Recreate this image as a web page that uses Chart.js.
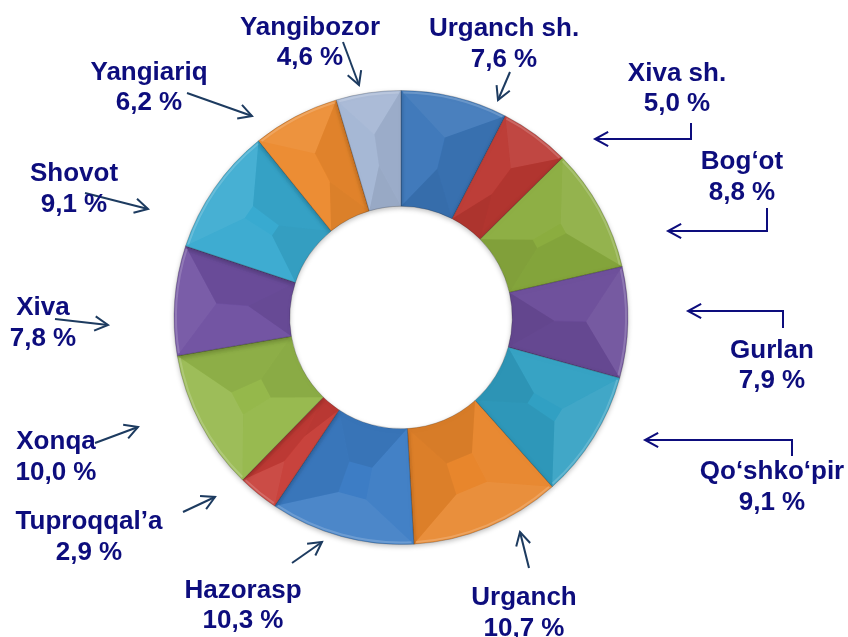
<!DOCTYPE html>
<html>
<head>
<meta charset="utf-8">
<script src="https://cdn.jsdelivr.net/npm/chart.js@4.4.1/dist/chart.umd.min.js"></script>
<style>
    html, body { margin: 0; padding: 0; background: #ffffff; }
    #wrap { width: 848px; height: 637px; position: relative; }
</style>
</head>
<body>
<div id="wrap"><canvas id="shareChart" width="848" height="637"></canvas></div>
<script>
// districts, clockwise from 12 o'clock
const districts = ['Urganch sh.', 'Xiva sh.', 'Bog\u2018ot', 'Gurlan', 'Qo\u2018shko\u2018pir', 'Urganch',
    'Hazorasp', 'Tuproqqal\u2019a', 'Xonqa', 'Xiva', 'Shovot', 'Yangiariq', 'Yangibozor'];
const shares = [7.6, 5.0, 8.8, 7.9, 9.1, 10.7, 10.3, 2.9, 10.0, 7.8, 9.1, 6.2, 4.6];
const sliceColors = ['#3b76b9', '#bb3832', '#8bad3f', '#6b4c99', '#31a0c3', '#e8862c',
    '#3d7dc5', '#c73d37', '#95b84b', '#6f50a1', '#38aad0', '#ec8a2e', '#a4b6d4'];

// label placement (layout only): [x, y of name line, y of value line]
const labelPos = [
    [504, 29, 60], [677, 74, 104], [742, 162, 193], [772, 351, 381], [772, 472, 503],
    [524, 598, 629], [243, 591, 621], [89, 522, 553], [56, 442, 473], [43, 308, 339],
    [74, 174, 205], [149, 73, 103], [310, 28, 58]
];
// arrow polylines, last point is the tip
const arrows = [
    [[510, 72], [498, 100]],
    [[691, 123], [691, 139], [595, 139]],
    [[767, 208], [767, 231], [668, 231]],
    [[783, 328], [783, 311], [688, 311]],
    [[792, 456], [792, 440], [645, 440]],
    [[529, 568], [520, 532]],
    [[292, 563], [322, 542]],
    [[183, 512], [215, 497]],
    [[95, 443], [138, 427]],
    [[55, 319], [108, 325]],
    [[85, 193], [148, 209]],
    [[187, 93], [252, 116]],
    [[343, 42], [359, 85]]
];
const arrowColors = ['#1d3b60', '#0d0d7d', '#0d0d7d', '#0d0d7d', '#0d0d7d', '#1d3b60',
    '#1d3b60', '#1d3b60', '#1d3b60', '#1d3b60', '#1d3b60', '#1d3b60', '#1d3b60'];

const fmt = v => v.toFixed(1).replace('.', ',') + ' %';

// soft shadow under the ring
const shadowPlugin = {
    id: 'ringShadow',
    beforeDatasetsDraw(chart) {
        const ctx = chart.ctx;
        ctx.save();
        ctx.shadowColor = 'rgba(0,0,0,0.25)';
        ctx.shadowBlur = 5;
        ctx.shadowOffsetY = 2;
    },
    afterDatasetsDraw(chart) {
        chart.ctx.restore();
    }
};

// bevel facets on every slice
const bevelPlugin = {
    id: 'bevel',
    afterDatasetsDraw(chart) {
        const ctx = chart.ctx;
        chart.getDatasetMeta(0).data.forEach(arc => {
            const { x, y, startAngle: a1, endAngle: a2, innerRadius: ri, outerRadius: ro } = arc.getProps(
                ['x', 'y', 'startAngle', 'endAngle', 'innerRadius', 'outerRadius'], true);
            const bev = (ro - ri) * 0.36;
            const rIn = ri + bev, rOut = ro - bev;
            const rm = (rIn + rOut) / 2;
            const d = Math.min(bev / rm, (a2 - a1) / 2 - 0.001);
            const b1 = a1 + d, b2 = a2 - d;
            const P = (r, a) => [x + r * Math.cos(a), y + r * Math.sin(a)];
            const face = (pts, arcSpec, fill) => {
                ctx.beginPath();
                ctx.moveTo(pts[0][0], pts[0][1]);
                pts.slice(1).forEach(p => ctx.lineTo(p[0], p[1]));
                if (arcSpec) ctx.arc(x, y, arcSpec[0], arcSpec[1], arcSpec[2], arcSpec[3]);
                ctx.closePath();
                ctx.fillStyle = fill;
                ctx.fill();
            };
            ctx.save();
            face([P(rOut, b2), P(rOut, b1), P(ro, a1)], [ro, a1, a2, false], 'rgba(255,255,255,0.08)');
            face([P(rIn, b1), P(rIn, b2), P(ri, a2)], [ri, a2, a1, true], 'rgba(0,0,0,0.07)');
            face([P(ri, a1), P(ro, a1), P(rOut, b1), P(rIn, b1)], null, 'rgba(255,255,255,0.03)');
            face([P(ri, a2), P(ro, a2), P(rOut, b2), P(rIn, b2)], null, 'rgba(0,0,0,0.05)');
            // thin rim highlight
            ctx.beginPath();
            ctx.arc(x, y, ro - 2, a1 + 0.01, a2 - 0.01);
            ctx.strokeStyle = 'rgba(255,255,255,0.18)';
            ctx.lineWidth = 2;
            ctx.stroke();
            ctx.restore();
        });
    }
};

const calloutPlugin = {
    id: 'callouts',
    afterDraw(chart) {
        const ctx = chart.ctx;
        ctx.save();
        arrows.forEach((pts, i) => {
            ctx.strokeStyle = arrowColors[i];
            ctx.lineWidth = 2;
            ctx.lineJoin = 'miter';
            ctx.beginPath();
            ctx.moveTo(pts[0][0], pts[0][1]);
            pts.slice(1).forEach(p => ctx.lineTo(p[0], p[1]));
            ctx.stroke();
            const tip = pts[pts.length - 1], prev = pts[pts.length - 2];
            const ang = Math.atan2(tip[1] - prev[1], tip[0] - prev[0]);
            const len = 15, spread = 0.5;
            ctx.beginPath();
            ctx.moveTo(tip[0] - len * Math.cos(ang - spread), tip[1] - len * Math.sin(ang - spread));
            ctx.lineTo(tip[0], tip[1]);
            ctx.lineTo(tip[0] - len * Math.cos(ang + spread), tip[1] - len * Math.sin(ang + spread));
            ctx.stroke();
        });
        ctx.fillStyle = '#0d0d7d';
        ctx.font = 'bold 26px "Liberation Sans", Arial, sans-serif';
        ctx.textAlign = 'center';
        ctx.textBaseline = 'middle';
        districts.forEach((name, i) => {
            const [lx, y1, y2] = labelPos[i];
            ctx.fillText(name, lx, y1);
            ctx.fillText(fmt(shares[i]), lx, y2);
        });
        ctx.restore();
    }
};

new Chart(document.getElementById('shareChart'), {
    type: 'doughnut',
    data: {
        labels: districts,
        datasets: [{
            data: shares,
            backgroundColor: sliceColors,
            borderColor: 'rgba(0,0,0,0.2)',
            borderWidth: 1
        }]
    },
    options: {
        responsive: false,
        animation: false,
        cutout: '49%',
        layout: { padding: { left: 150, right: 196, top: 90, bottom: 92 } },
        plugins: {
            legend: { display: false },
            tooltip: { enabled: false }
        }
    },
    plugins: [shadowPlugin, bevelPlugin, calloutPlugin]
});
</script>
</body>
</html>
